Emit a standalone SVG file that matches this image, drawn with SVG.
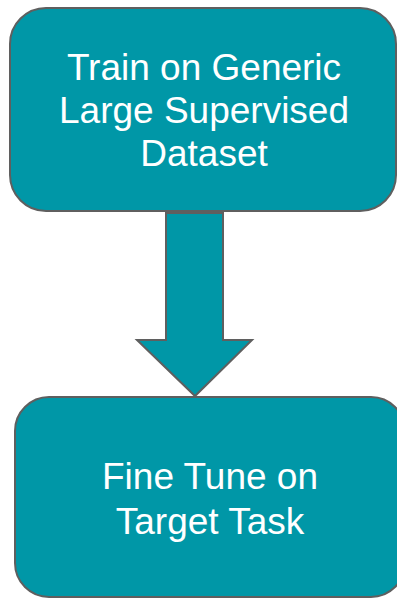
<svg xmlns="http://www.w3.org/2000/svg" width="397" height="598" viewBox="0 0 397 598">
  <style>
    .box { fill: #0097A7; stroke: #5f5f5f; stroke-width: 2; }
    .label { fill: #ffffff; font-family: "Liberation Sans", Arial, sans-serif; font-size: 37px; text-anchor: middle; }
  </style>
  <rect width="397" height="598" fill="#ffffff"/>
  <g id="train">
    <rect class="box" x="10" y="8" width="386" height="203" rx="36" ry="36"/>
    <text class="label" x="204" y="80">Train on Generic</text>
    <text class="label" x="204" y="123">Large Supervised</text>
    <text class="label" x="204" y="166">Dataset</text>
  </g>
  <g id="connectors">
    <polygon class="box" points="166,213 223,213 223,340 252,340 195,396 137,340 166,340"/>
  </g>
  <g id="finetune">
    <rect class="box" x="15" y="397" width="390" height="200" rx="34" ry="34"/>
    <text class="label" x="210" y="489">Fine Tune on</text>
    <text class="label" x="210" y="534">Target Task</text>
  </g>
</svg>
